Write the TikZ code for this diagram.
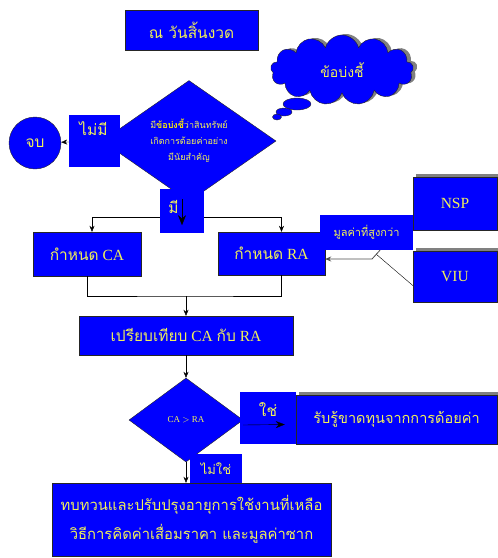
\documentclass[tikz,border=0pt]{standalone}
\usepackage{fontspec}
\setmainfont{Liberation Serif}
\newfontfamily\thaifont[Script=Thai]{Loma}
\usepackage{xcolor}
\definecolor{boxblue}{RGB}{0,0,255}
\definecolor{boxtext}{RGB}{240,240,90}
\usetikzlibrary{shapes.geometric,shapes.symbols,arrows.meta}

\begin{document}
\begin{tikzpicture}[x=1pt,y=-1pt,font=\fontsize{15.5}{18}\selectfont,
		box/.style={draw=black!85,fill=boxblue,text=boxtext,inner sep=0pt},
		tag/.style={fill=boxblue,text=boxtext,inner sep=0pt},
		shade/.style={preaction={fill=gray,transform canvas={xshift=3pt,yshift=3pt}}},
		>={Stealth[length=6pt,width=5pt]}]
		\useasboundingbox (0,0) rectangle (498,558);
		\node[box,minimum width=133pt,minimum height=40pt] (start) at (191.5,30) {\thaifont ณ วันสิ้นงวด};
		\node[box,diamond,minimum width=174pt,minimum height=116pt,align=center,font=\fontsize{9}{16}\selectfont\thaifont] (q1) at (189,141)
			{มี{\bfseries\color{yellow}ข้อบ่งชี้}ว่าสินทรัพย์\\เกิดการด้อยค่าอย่าง\\มีนัยสำคัญ};
		\node[box,cloud,cloud puffs=13,cloud ignores aspect,minimum width=143pt,minimum height=70pt,
			preaction={fill=gray,transform canvas={xshift=4pt,yshift=1pt}},font=\fontsize{14}{16}\selectfont\thaifont] (hint) at (342,70) {ข้อบ่งชี้};
		\foreach \x/\y/\a/\b in {297/104/14/6,284/112/8/4,277/117/4.5/3}
			\path[box] (\x,\y) ellipse (\a pt and \b pt);
		\node[box,circle,minimum size=52pt] (end) at (35,143) {\thaifont จบ};
		\draw[->] (q1.west) -- (end);
		\node[tag,minimum width=51pt,minimum height=52pt,
			label={[text=boxtext,anchor=north west,xshift=7pt,yshift=-3pt]north west:{\thaifont ไม่มี}}] (no) at (94.5,141) {};
		\coordinate (split) at (182,217);
		\node[box,minimum width=108pt,minimum height=44pt] (ca) at (87,254) {{\thaifont กำหนด} CA};
		\node[box,minimum width=107pt,minimum height=43pt] (ra) at (271.5,253.5) {{\thaifont กำหนด} RA};
		\draw (q1) -- (split);
		\draw[->] (split) -| ([xshift=5pt]ca.north);
		\draw[->] (split) -| ([xshift=10pt]ra.north);
		\node[tag,minimum width=44pt,minimum height=44pt,
			label={[text=boxtext,anchor=west,xshift=5pt,yshift=4pt]west:{\thaifont มี}}] (yes) at (182,211) {};
		\draw[->,>={Stealth[length=10pt,width=8pt]}] ([yshift=-10pt]yes.north) -- ([yshift=8pt]yes.south);
		\node[box,shade,minimum width=84pt,minimum height=53pt] (nsp) at (455,203.5) {NSP};
		\node[box,shade,minimum width=84pt,minimum height=51pt] (viu) at (455,276.5) {VIU};
		\coordinate (bend) at (372,259);
		\coordinate (join) at (376,254);
		\draw (join) -- ([yshift=-9pt]viu.west);
		\node[tag,minimum width=93pt,minimum height=35pt,font=\fontsize{11}{13}\selectfont\thaifont] (max) at (366.5,232.5) {มูลค่าที่สูงกว่า};
		\draw[->,gray!60!black,thick] ([xshift=13.5pt]max.south) -- (bend) -- (bend -| ra.east);
		\coordinate (merge) at (186,296);
		\node[box,minimum width=214pt,minimum height=39pt] (cmp) at (186,335.5) {{\thaifont เปรียบเทียบ} CA {\thaifont กับ} RA};
		\draw (ca.south) |- (merge) -| ([xshift=10pt]ra.south);
		\draw[->] (merge) -- (cmp.north);
		\node[box,diamond,minimum width=114pt,minimum height=84pt,font=\fontsize{9}{11}\selectfont] (q2) at (186,420) {CA $>$ RA};
		\draw[->] (cmp.south) -- (q2.north);
		\node[tag,minimum width=56pt,minimum height=52pt,
			label={[text=boxtext,anchor=center,yshift=8pt]center:{\thaifont ใช่}}] (ok) at (268,418) {};
		\node[box,shade,minimum width=201pt,minimum height=49pt,font=\fontsize{14.5}{16}\selectfont\thaifont] (loss) at (396.5,419.5) {รับรู้ขาดทุนจากการด้อยค่า};
		\draw[->,>={Stealth[length=9pt,width=7pt]}] ([yshift=-5pt]q2.east) -- ([yshift=-5pt,xshift=-11pt]loss.west);
		\node[box,minimum width=279pt,minimum height=73pt,align=center,font=\fontsize{14.8}{29}\selectfont\thaifont] (rev) at (191.5,519.5)
			{ทบทวนและปรับปรุงอายุการใช้งานที่เหลือ\\วิธีการคิดค่าเสื่อมราคา และมูลค่าซาก};
		\node[tag,minimum width=52pt,minimum height=29pt,font=\fontsize{13}{15}\selectfont\thaifont] (notok) at (216,468.5) {ไม่ใช่};
		\draw[->] (q2.south) -- (q2.south |- rev.north);
	\end{tikzpicture}
\end{document}
